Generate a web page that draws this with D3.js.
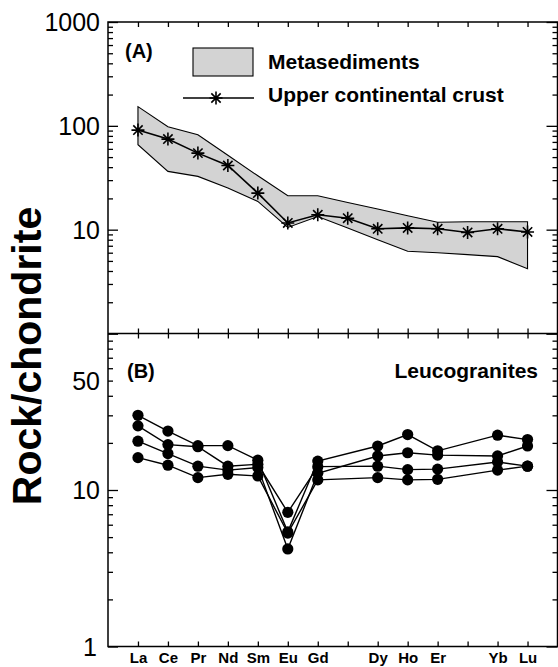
<!DOCTYPE html>
<html><head><meta charset="utf-8">
<script src="https://cdn.jsdelivr.net/npm/d3@7"></script>
<style>
body{margin:0;background:#fff}
svg{display:block}
text{font-family:Arial,"Liberation Sans",Helvetica,sans-serif;fill:#000}
</style>
</head><body>
<svg id="chart" width="558" height="667"></svg>
<script>
// ---------- data ----------
const elements = ["La","Ce","Pr","Nd","Sm","Eu","Gd","Tb","Dy","Ho","Er","Tm","Yb","Lu"];
const elementLabels = ["La","Ce","Pr","Nd","Sm","Eu","Gd","","Dy","Ho","Er","","Yb","Lu"];
const uccValues = [91,74.5,54.6,41.5,22.5,11.6,13.9,12.9,10.2,10.4,10.2,9.4,10.2,9.5];
const metaUpper = [153,98,82,52,33,21.2,21.2,18.3,15.8,13.6,11.8,11.9,11.9,11.9];
const metaLower = [65.7,36.4,32.6,25.2,18.7,10.5,13.4,10.4,8.0,6.2,6.0,5.75,5.5,4.2];
const leuco1 = [30.0,23.8,19.2,19.2,15.5,5.4,15.3,null,19.1,22.6,17.8,null,22.4,21.0];
const leuco2 = [25.7,19.5,18.9,14.2,14.6,7.2,14.1,null,14.2,13.5,13.6,null,15.1,14.2];
const leuco3 = [20.5,17.1,14.2,13.4,13.9,4.2,12.8,null,16.5,17.3,16.7,null,16.5,19.1];
const leuco4 = [16.1,14.4,12.0,12.6,12.3,5.3,11.6,null,12.0,11.6,11.7,null,13.4,14.2];
const topMajorTicks = [1,10,100,1000];
const topTickLabels = [10,100,1000];
const bottomMajorTicks = [1,10,100];
const bottomTickLabels = [1,10,50];
const legendLabels = ["Metasediments","Upper continental crust"];
const panelLabels = ["(A)","(B)"];
const bottomTitle = "Leucogranites";
const yTitle = "Rock/chondrite";

// ---------- layout ----------
const L = 108, R = 557.5, T = 22, MID = 333.5, B = 646.5;
const svg = d3.select("#chart");

const x = d3.scalePoint().domain(elements).range([L, R]).padding(1);
const yTop = d3.scaleLog().domain([1,1000]).range([MID, T]);
const yBot = d3.scaleLog().domain([1,100]).range([B, MID]);

function minorTicks(dmin, dmax){
  const out=[];
  for(let d=dmin; d<dmax; d*=10) for(let k=2;k<=9;k++) out.push(k*d);
  return out;
}

// metasediment band
const bandPts = elements.map((e,i)=>[x(e), yTop(metaUpper[i])])
  .concat(elements.map((e,i)=>[x(e), yTop(metaLower[i])]).reverse());
svg.append("path")
  .attr("d", d3.line()(bandPts) + "Z")
  .attr("fill","#d3d3d3").attr("stroke","#000").attr("stroke-width",1.1);

// asterisk symbol
function asterisk(s){
  const d = s*0.72;
  return `M0,${-s}L0,${s}M${-s},0L${s},0M${-d},${-d}L${d},${d}M${-d},${d}L${d},${-d}`;
}

// UCC line
const uccData = elements.map((e,i)=>({e, v:uccValues[i]}));
svg.append("path")
  .attr("d", d3.line().x(d=>x(d.e)).y(d=>yTop(d.v))(uccData))
  .attr("fill","none").attr("stroke","#000").attr("stroke-width",1.6);
svg.selectAll(".ucc").data(uccData).enter().append("path")
  .attr("transform", d=>`translate(${x(d.e)},${yTop(d.v)})`)
  .attr("d", asterisk(6.5)).attr("stroke","#000").attr("stroke-width",1.6).attr("fill","none");

// Leucogranites
const leucoSeries = [leuco1, leuco2, leuco3, leuco4];
leucoSeries.forEach(s=>{
  const pts = elements.map((e,i)=>({e, v:s[i]})).filter(d=>d.v!=null);
  svg.append("path")
    .attr("d", d3.line().x(d=>x(d.e)).y(d=>yBot(d.v))(pts))
    .attr("fill","none").attr("stroke","#000").attr("stroke-width",1.4);
  svg.append("g").selectAll("circle").data(pts).enter().append("circle")
    .attr("cx", d=>x(d.e)).attr("cy", d=>yBot(d.v)).attr("r",5.6).attr("fill","#000");
});

// ---------- axes ----------
function styleAxis(g){
  g.select(".domain").remove();
  g.selectAll("line").attr("stroke","#000").attr("stroke-width",1.3);
}
// left
svg.append("g").attr("transform",`translate(${L},0)`)
  .call(d3.axisLeft(yTop).tickValues(topMajorTicks).tickSize(-10).tickSizeOuter(0).tickFormat(""))
  .call(styleAxis);
svg.append("g").attr("transform",`translate(${L},0)`)
  .call(d3.axisLeft(yTop).tickValues(minorTicks(1,1000)).tickSize(-5).tickSizeOuter(0).tickFormat(""))
  .call(styleAxis);
svg.append("g").attr("transform",`translate(${L},0)`)
  .call(d3.axisLeft(yBot).tickValues(bottomMajorTicks).tickSize(-10).tickSizeOuter(0).tickFormat(""))
  .call(styleAxis);
svg.append("g").attr("transform",`translate(${L},0)`)
  .call(d3.axisLeft(yBot).tickValues(minorTicks(1,100)).tickSize(-5).tickSizeOuter(0).tickFormat(""))
  .call(styleAxis);
// left labels
svg.append("g").selectAll("text").data(topTickLabels).enter().append("text")
  .attr("x", 100).attr("y", d=>yTop(d)).attr("dy","0.36em")
  .attr("text-anchor","end").style("font-size","25px").text(d=>d);
svg.append("g").selectAll("text").data(bottomTickLabels).enter().append("text")
  .attr("x", d=> d===1 ? 97 : 100).attr("y", d=>yBot(d)).attr("dy","0.36em")
  .attr("text-anchor","end").style("font-size","25px").text(d=>d);
// right
svg.append("g").attr("transform",`translate(${R},0)`)
  .call(d3.axisRight(yTop).tickValues(topMajorTicks).tickSize(-11).tickSizeOuter(0).tickFormat(""))
  .call(styleAxis);
svg.append("g").attr("transform",`translate(${R},0)`)
  .call(d3.axisRight(yTop).tickValues(minorTicks(1,1000)).tickSize(-5).tickSizeOuter(0).tickFormat(""))
  .call(styleAxis);
svg.append("g").attr("transform",`translate(${R},0)`)
  .call(d3.axisRight(yBot).tickValues(bottomMajorTicks).tickSize(-11).tickSizeOuter(0).tickFormat(""))
  .call(styleAxis);
svg.append("g").attr("transform",`translate(${R},0)`)
  .call(d3.axisRight(yBot).tickValues(minorTicks(1,100)).tickSize(-5).tickSizeOuter(0).tickFormat(""))
  .call(styleAxis);
// x ticks
svg.append("g").attr("transform",`translate(0,${T})`)
  .call(d3.axisTop(x).tickSize(-5).tickSizeOuter(0).tickFormat("")).call(styleAxis);
svg.append("g").attr("transform",`translate(0,${MID})`)
  .call(d3.axisTop(x).tickSize(5).tickSizeOuter(0).tickFormat("")).call(styleAxis);
svg.append("g").attr("transform",`translate(0,${MID})`)
  .call(d3.axisBottom(x).tickSize(5).tickSizeOuter(0).tickFormat("")).call(styleAxis);
svg.append("g").attr("transform",`translate(0,${B})`)
  .call(d3.axisBottom(x).tickSize(-5).tickSizeOuter(0).tickFormat((d,i)=>elementLabels[i]))
  .call(g=>{
    styleAxis(g);
    g.selectAll("text").attr("y",16.5).attr("dy",null)
      .style("font-size","15px").style("font-weight","bold").attr("fill","#000")
      .style("font-family",'Arial,"Liberation Sans",sans-serif');
  });

// frame
const frame = svg.append("g").attr("fill","none").attr("stroke","#000").attr("stroke-width",1.5);
frame.append("rect").attr("x",L).attr("y",T).attr("width",R-L).attr("height",B-T);
frame.append("line").attr("x1",L).attr("x2",R).attr("y1",MID).attr("y2",MID);

// ---------- texts ----------
svg.append("text").attr("transform","translate(41,356) rotate(-90)")
  .attr("text-anchor","middle").style("font-size","41px").style("font-weight","bold").text(yTitle);
svg.append("text").attr("x",125).attr("y",58).style("font-size","20px").style("font-weight","bold").text(panelLabels[0]);
svg.append("text").attr("x",127).attr("y",378).style("font-size","20px").style("font-weight","bold").text(panelLabels[1]);
svg.append("text").attr("x",538).attr("y",378).attr("text-anchor","end")
  .style("font-size","21px").style("font-weight","bold").text(bottomTitle);

// legend
svg.append("rect").attr("x",193).attr("y",48).attr("width",60).attr("height",28)
  .attr("fill","#d3d3d3").attr("stroke","#000").attr("stroke-width",1.1);
svg.append("line").attr("x1",183).attr("x2",254).attr("y1",98).attr("y2",98)
  .attr("stroke","#000").attr("stroke-width",1.4);
svg.append("path").attr("transform","translate(216,98)").attr("d",asterisk(6.5))
  .attr("stroke","#000").attr("stroke-width",1.6);
svg.append("text").attr("x",268).attr("y",69).style("font-size","21px").style("font-weight","bold").text(legendLabels[0]);
svg.append("text").attr("x",268).attr("y",102).style("font-size","21px").style("font-weight","bold").text(legendLabels[1]);
</script>
</body></html>
